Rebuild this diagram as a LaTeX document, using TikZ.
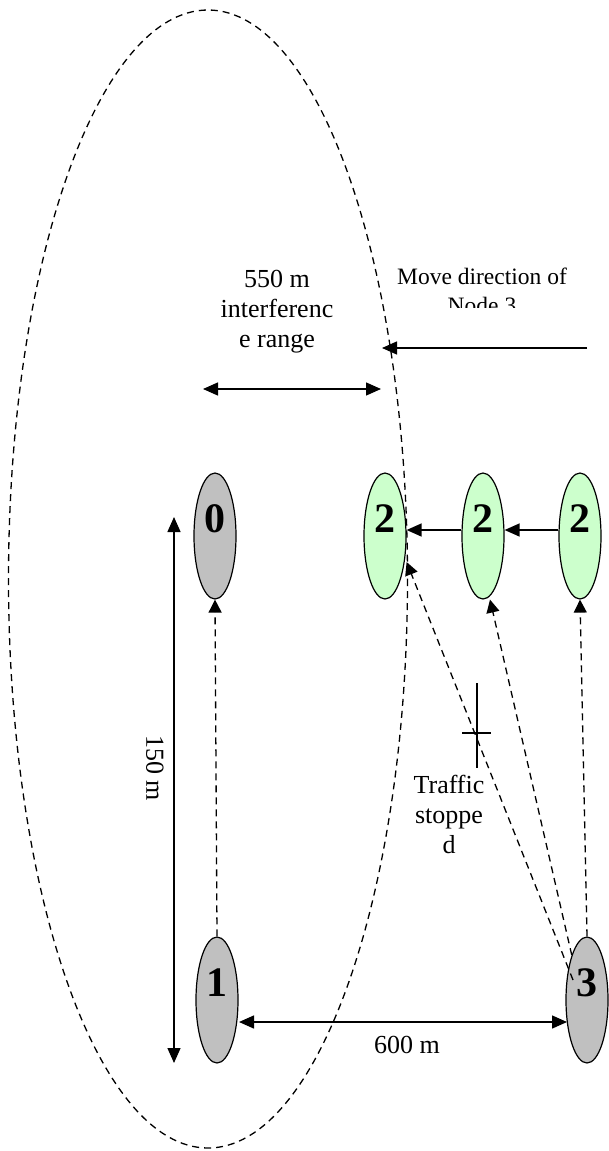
\documentclass[tikz,border=0pt]{standalone}
\usepackage{fontspec}
\setmainfont{Liberation Serif}
\usetikzlibrary{shapes.geometric,arrows.meta}
\definecolor{carGrey}{HTML}{C0C0C0}
\definecolor{carGreen}{HTML}{CCFFCC}

\tikzset{
  car/.style={ellipse, draw, line width=1.2pt, minimum width=42pt, minimum height=126pt, inner sep=0pt},
  greycar/.style={car, fill=carGrey},
  greencar/.style={car, fill=carGreen},
  carnum/.style={font=\bfseries\fontsize{42}{42}\selectfont, inner sep=0pt},
  txt/.style={font=\fontsize{26}{30}\selectfont, align=center, inner sep=0pt},
  smalltxt/.style={font=\fontsize{23.5}{29}\selectfont, align=center, inner sep=0pt},
  dimarrow/.style={line width=1.4pt, {Triangle[length=15pt,width=13pt]}-{Triangle[length=15pt,width=13pt]}},
  mvarrow/.style={line width=1.4pt, -{Triangle[length=15pt,width=13pt]}},
  carlink/.style={line width=1.3pt, dash pattern=on 7pt off 5pt, -{Triangle[length=13pt,width=13pt]}},
  rangeline/.style={line width=1.3pt, dash pattern=on 7pt off 5pt}
}

\begin{document}
\begin{tikzpicture}[x=1pt, y=-1pt]
    \useasboundingbox (0,0) rectangle (608,1151);

    % Interference range
    \draw[rangeline] (208,579) ellipse (199.5 and 569);

    % Nodes
    \node[greycar] (n0) at (215,536) {};
    \node[greycar] (n1) at (217,1000) {};
    \node[greycar] (n3) at (587,1000) {};
    \foreach \n/\x in {a/385, b/483, c/580}
        \node[greencar] (n2\n) at (\x,536) {};

    \node[carnum] (l0) at ([yshift=17pt]n0) {0};
    \node[carnum] (l1) at ([yshift=17pt]n1) {1};
    \node[carnum] (l3) at ([yshift=17pt]n3) {3};
    \foreach \n in {a, b, c}
        \node[carnum] (l2\n) at ([yshift=17pt]n2\n) {2};

    % Moves of node 2
    \draw[mvarrow] ([yshift=6pt]n2c.west) -- ([yshift=6pt]n2b.east);
    \draw[mvarrow] ([yshift=6pt]n2b.west) -- ([yshift=6pt]n2a.east);

    % Traffic
    \draw[carlink] (n1.north) -- (n0.south);
    \draw[carlink] (n3.north) -- (n2c.south);
    \draw[carlink] (n3.north west) -- ([xshift=7pt]n2b.south);
    \draw[carlink] ([xshift=-14pt,yshift=20pt]n3.center) -- ([yshift=-26pt]n2a.east);

    % Stopped
    \draw[line width=1.3pt] (477,683) -- (477,768);
    \draw[line width=1.3pt] (462,733) -- (491,733);
    \node[txt] (stop) at (449,814) {Traffic\\stoppe\\d};

    % Distances
    \coordinate (r1) at (203,389);
    \coordinate (r2) at (381,389);
    \draw[dimarrow] (r1) -- (r2);
    \node[txt] (rng) at (277,311.5) {550 m\\interferenc\\e range};

    \coordinate (h1) at (174,517);
    \coordinate (h2) at (174,1063);
    \draw[dimarrow] (h1) -- (h2);
    \node[txt, rotate=-90] (hlen) at (155,768) {150 m};

    \coordinate (d1) at (239,1022);
    \coordinate (d3) at (567,1022);
    \draw[dimarrow] (d1) -- (d3);
    \node[txt, anchor=base] (dlen) at (407,1053) {600 m};

    % Move direction
    \coordinate (m1) at (587,348);
    \coordinate (m2) at (382,348);
    \draw[mvarrow] (m1) -- (m2);
    \begin{scope}
        \clip (380,262) rectangle (608,307);
        \node[smalltxt] (mvtxt) at (482,290.5) {Move direction of\\Node 3};
    \end{scope}
\end{tikzpicture}
\end{document}
